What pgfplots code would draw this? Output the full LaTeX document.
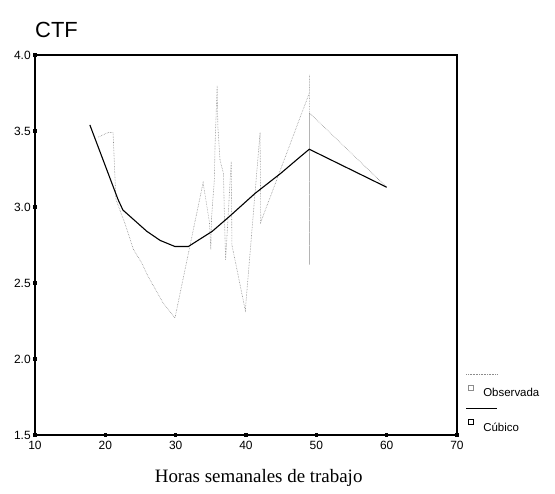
\documentclass[border=0pt]{standalone}
\usepackage{pgfplots}
\pgfplotsset{compat=1.18}
\usepackage{fontspec}
\setmainfont{Liberation Serif}
\newfontfamily\arial{Liberation Sans}

\definecolor{obsgray}{gray}{0.55}

\begin{document}
\begin{tikzpicture}
\begin{axis}[
    scale only axis,
    width=422bp, height=380bp,
    xmin=10, xmax=70, ymin=1.5, ymax=4.0,
    xtick={10,20,30,40,50,60,70},
    ytick={1.5,2.0,2.5,3.0,3.5,4.0},
    yticklabels={1.5,2.0,2.5,3.0,3.5,4.0},
    xtick pos=bottom, ytick pos=left,
    tick align=center,
    major tick length=3.6bp,
    tick style={line width=3.6bp, black},
    axis line style={line width=1.2pt},
    /pgf/number format/assume math mode=true,
    ticklabel style={font=\arial\fontsize{12}{14}\selectfont},
    xticklabel style={yshift=-1bp},
    yticklabel style={xshift=1bp},
    xlabel={Horas semanales de trabajo},
    xlabel style={at={(axis description cs:0.53,0)}, anchor=base,
                  yshift=-47bp, font=\fontsize{19}{21}\selectfont},
    legend style={at={(rel axis cs:1.024,0)}, anchor=south west,
                  draw=none, fill=none, inner sep=0pt,
                  font=\arial\fontsize{11.5}{13}\selectfont,
                  row sep=19bp},
    legend cell align=left,
    legend image code/.code={
        \draw[#1, overlay] (-9bp,0.62em+13bp) -- (22bp,0.62em+13bp);
        \draw[#1, solid, line width=0.6pt] (-7bp,0.32em) rectangle (-2bp,0.32em+5bp);
        \path[draw=none, fill=none] (-8bp,0) rectangle (6bp,1bp);
    },
    clip=false,
]
% observada
\addplot[obsgray, densely dotted, line width=0.6pt] coordinates {
    (19.0,3.46) (20.4,3.49) (21.1,3.49) (21.5,3.05) (22.8,2.89)
    (24.0,2.72) (25.2,2.63) (26.0,2.55) (28.2,2.37) (29.9,2.27)
    (33.9,3.16) (34.8,2.90) (35.0,2.72) (35.1,2.93) (35.5,3.18)
    (35.6,3.41) (35.9,3.80) (36.0,3.53) (36.3,3.31) (36.8,3.22)
    (36.9,3.00) (37.1,2.65) (37.9,3.30) (38.0,2.75) (39.9,2.32)
    (42.0,3.49) (42.1,2.90) (49.0,3.75) (49.0,3.87) (49.0,2.62)
    (49.0,3.62) (60.0,3.13)
};
\addlegendentry{Observada}
% cubico
\addplot[black, line width=1.1pt] coordinates {
    (17.8,3.54) (21.8,3.05) (22.5,2.98) (25.9,2.84) (27.8,2.78)
    (29.9,2.74) (31.8,2.74) (35.2,2.84) (37.7,2.94) (41.3,3.09)
    (44.9,3.22) (47.7,3.33) (49.0,3.38) (60.0,3.13)
};
\addlegendentry{Cúbico}
\node[anchor=base west, font=\arial\fontsize{22}{24}\selectfont, inner sep=0pt]
    at (rel axis cs:0,1) [yshift=17bp] {CTF};
\end{axis}
\pgfresetboundingbox
\path (-35bp,-59bp) rectangle (520bp,435bp);
\end{tikzpicture}
\end{document}
